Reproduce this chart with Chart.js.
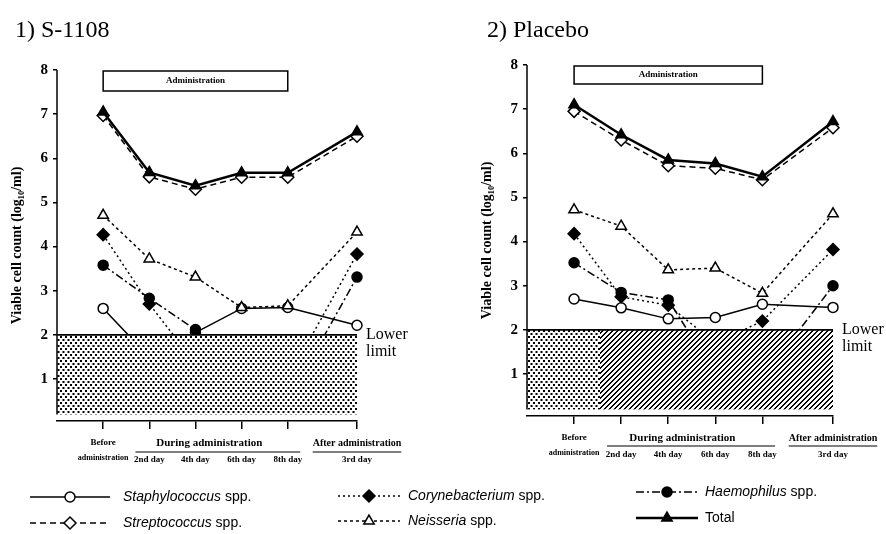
<!DOCTYPE html>
<html>
<head>
<meta charset="utf-8">
<script src="https://cdn.jsdelivr.net/npm/chart.js@4.4.1/dist/chart.umd.min.js"></script>
<style>
  body { margin: 0; background: #fff; width: 886px; height: 534px; position: relative; overflow: hidden; }
  canvas { position: absolute; top: 0; }
  #c1 { left: 0; }
  #c2 { left: 443px; }
  #lg { left: 0; top: 470px; }
</style>
</head>
<body>
<canvas id="c1" width="443" height="470"></canvas>
<canvas id="c2" width="443" height="470"></canvas>
<canvas id="lg" width="886" height="64"></canvas>
<script>
// sampling points: before, 2nd/4th/6th/8th day of dosing, 3rd day after
const days = [1, 2, 3, 4, 5, 6.5];
const dayLabels = ['2nd day', '4th day', '6th day', '8th day'];
const yTicks = [1, 2, 3, 4, 5, 6, 7, 8];
const lowerLimit = 2;

// S-1108 group, log10/ml (values under 2 sit below the detection limit)
const s1108Staph  = [2.6, 1.5, 2.05, 2.6, 2.62, 2.22];
const s1108Strep  = [6.97, 5.58, 5.3, 5.57, 5.57, 6.5];
const s1108Coryne = [4.27, 2.7, 1.35, 1.2, 1.0, 3.83];
const s1108Neiss  = [4.71, 3.72, 3.31, 2.62, 2.66, 4.33];
const s1108Haemo  = [3.58, 2.83, 2.12, 1.0, 0.5, 3.31];
const s1108Total  = [7.05, 5.68, 5.38, 5.67, 5.67, 6.6];

// placebo group
const placStaph  = [2.7, 2.5, 2.25, 2.28, 2.58, 2.51];
const placStrep  = [6.95, 6.3, 5.72, 5.66, 5.4, 6.58];
const placCoryne = [4.18, 2.75, 2.56, 1.7, 2.2, 3.82];
const placNeiss  = [4.72, 4.35, 3.36, 3.4, 2.83, 4.63];
const placHaemo  = [3.52, 2.85, 2.68, 1.0, 0.9, 3.0];
const placTotal  = [7.1, 6.42, 5.85, 5.77, 5.47, 6.72];

const styles = {
  staph:  { genus: 'Staphylococcus',  point: 'circle',   r: 5, filled: false, dash: [],           width: 1.5 },
  strep:  { genus: 'Streptococcus',   point: 'rectRot',  r: 6, filled: false, dash: [6, 4],       width: 1.5 },
  coryne: { genus: 'Corynebacterium', point: 'rectRot',  r: 6, filled: true,  dash: [2, 3],       width: 1.5 },
  neiss:  { genus: 'Neisseria',       point: 'triangle', r: 6, filled: false, dash: [3, 3],       width: 1.5 },
  haemo:  { genus: 'Haemophilus',     point: 'circle',   r: 5, filled: true,  dash: [8, 3, 2, 3], width: 1.5 },
  total:  { genus: null,              point: 'triangle', r: 6, filled: true,  dash: [],           width: 2.5 }
};

function ds(key, values) {
  const s = styles[key];
  return {
    label: key,
    data: values.map((v, i) => ({ x: days[i], y: v })),
    borderColor: '#000',
    borderWidth: s.width,
    borderDash: s.dash,
    pointStyle: s.point,
    pointRadius: s.r,
    pointBorderWidth: 1.5,
    pointBorderColor: '#000',
    pointBackgroundColor: s.filled ? '#000' : '#fff',
    fill: false,
    clip: 10,
    tension: 0
  };
}

function pattern(ctx, kind) {
  const c = document.createElement('canvas');
  const g = c.getContext('2d');
  if (kind === 'dots') {
    c.width = 5; c.height = 6;
    g.fillStyle = '#000';
    g.fillRect(0, 0, 2, 2);
    g.fillRect(2.5, 3, 2, 2);
  } else {
    c.width = 5; c.height = 5;
    g.fillStyle = '#000';
    for (let i = 0; i < 5; i++) {
      g.fillRect(i, 4 - i, 1, 1);
      g.fillRect(i, (5 - i) % 5, 1, 1);
    }
  }
  return ctx.createPattern(c, 'repeat');
}

const deco = {
  id: 'deco',
  afterDatasetsDraw(chart, args, o) {
    const { ctx, scales: { x, y } } = chart;
    const l = x.getPixelForValue(0), r = x.getPixelForValue(6.5);
    const top = y.getPixelForValue(lowerLimit), bot = y.getPixelForValue(0.2);
    ctx.save();
    // band under the detection limit
    ctx.fillStyle = '#fff';
    ctx.fillRect(l, top, r - l, bot - top);
    const split = o.hatchFrom != null ? x.getPixelForValue(o.hatchFrom) : r;
    ctx.fillStyle = pattern(ctx, 'dots');
    ctx.fillRect(l, top, split - l, bot - top);
    if (split < r) {
      ctx.fillStyle = pattern(ctx, 'hatch');
      ctx.fillRect(split, top, r - split, bot - top);
    }
    ctx.strokeStyle = '#000';
    ctx.lineWidth = 1.8;
    ctx.beginPath();
    ctx.moveTo(l, top); ctx.lineTo(r, top);
    ctx.stroke();
    ctx.lineWidth = 1.5;
    ctx.beginPath();
    ctx.moveTo(l, y.getPixelForValue(8)); ctx.lineTo(l, bot);
    ctx.stroke();

    ctx.fillStyle = '#000';
    ctx.font = '16px "Liberation Serif"';
    ctx.textAlign = 'left';
    ctx.textBaseline = 'middle';
    ctx.fillText('Lower', r + 9, top);
    ctx.fillText('limit', r + 9, top + 17);

    // dosing period box
    const bx0 = x.getPixelForValue(1), bx1 = x.getPixelForValue(5);
    const by0 = y.getPixelForValue(8) + 1;
    ctx.fillStyle = '#fff';
    ctx.fillRect(bx0, by0, bx1 - bx0, o.boxH);
    ctx.lineWidth = 1.5;
    ctx.strokeRect(bx0, by0, bx1 - bx0, o.boxH);
    ctx.fillStyle = '#000';
    ctx.font = 'bold 9px "Liberation Serif"';
    ctx.textAlign = 'center';
    ctx.fillText('Administration', (bx0 + bx1) / 2, by0 + o.boxH / 2);

    // panel title
    ctx.font = '24px "Liberation Serif"';
    ctx.textAlign = 'left';
    ctx.textBaseline = 'alphabetic';
    ctx.fillText(o.title, o.titleX, 37);

    // category labels under the x axis
    const ax = x.bottom - x.height;
    const row1 = ax + o.row1, row2 = ax + o.row2, uy = ax + o.under;
    ctx.textBaseline = 'middle';
    ctx.textAlign = 'center';
    ctx.font = 'bold 9px "Liberation Serif"';
    ctx.fillText('Before', x.getPixelForValue(1), row1);
    ctx.font = 'bold 8px "Liberation Serif"';
    ctx.fillText('administration', x.getPixelForValue(1), row2);
    ctx.font = 'bold 11px "Liberation Serif"';
    ctx.fillText('During administration', x.getPixelForValue(3.3), row1);
    ctx.font = 'bold 10px "Liberation Serif"';
    const after = 'After administration';
    const cx = x.getPixelForValue(6.5);
    ctx.fillText(after, cx, row1);
    const aw = ctx.measureText(after).width;
    ctx.font = 'bold 9px "Liberation Serif"';
    dayLabels.forEach((t, i) => ctx.fillText(t, x.getPixelForValue(days[i + 1]), row2 + 2));
    ctx.fillText('3rd day', cx, row2 + 2);
    ctx.lineWidth = 1.2;
    ctx.beginPath();
    ctx.moveTo(x.getPixelForValue(1.7), uy); ctx.lineTo(x.getPixelForValue(5.27), uy);
    ctx.moveTo(cx - aw / 2, uy); ctx.lineTo(cx + aw / 2, uy);
    ctx.stroke();
    ctx.restore();
  }
};

function panel(id, series, o) {
  return new Chart(document.getElementById(id), {
    type: 'line',
    data: {
      datasets: [
        ds('total', series.total),
        ds('haemo', series.haemo),
        ds('coryne', series.coryne),
        ds('strep', series.strep),
        ds('neiss', series.neiss),
        ds('staph', series.staph)
      ]
    },
    options: {
      responsive: false,
      animation: false,
      layout: { padding: { left: o.padLeft, top: o.top, right: 443 - o.right, bottom: 0 } },
      plugins: {
        legend: { display: false },
        tooltip: { enabled: false },
        deco: o.deco
      },
      scales: {
        x: {
          type: 'linear', min: 0, max: 6.5,
          afterBuildTicks: s => { s.ticks = days.map(v => ({ value: v })); },
          afterFit: s => { s.height = 470 - o.bottom; },
          grid: { drawOnChartArea: false, color: '#000', lineWidth: 1.5, tickLength: 8 },
          border: { color: '#000', width: 1.5 },
          ticks: { display: false }
        },
        y: {
          min: 0.05, max: 8,
          afterBuildTicks: s => { s.ticks = yTicks.map(v => ({ value: v })); },
          afterFit: s => { s.width = o.left - o.padLeft; },
          grid: { drawOnChartArea: false, color: '#000', lineWidth: 1.5, tickLength: 4 },
          border: { display: false },
          ticks: {
            color: '#000', padding: 5,
            font: { family: 'Liberation Serif', size: 15, weight: 'bold' }
          },
          title: {
            display: true,
            text: 'Viable cell count (log\u2081\u2080/ml)',
            color: '#000',
            padding: { top: 9, bottom: 0 },
            font: { family: 'Liberation Serif', size: 14, weight: 'bold' }
          }
        }
      }
    },
    plugins: [deco]
  });
}

panel('c1', {
  staph: s1108Staph, strep: s1108Strep, coryne: s1108Coryne,
  neiss: s1108Neiss, haemo: s1108Haemo, total: s1108Total
}, {
  padLeft: 0, left: 57, right: 357, top: 70, bottom: 421,
  deco: { title: '1) S-1108', titleX: 15, boxH: 20, row1: 22, row2: 37, under: 31, hatchFrom: null }
});

panel('c2', {
  staph: placStaph, strep: placStrep, coryne: placCoryne,
  neiss: placNeiss, haemo: placHaemo, total: placTotal
}, {
  padLeft: 27, left: 84, right: 390, top: 65, bottom: 416,
  deco: { title: '2) Placebo', titleX: 44, boxH: 18, row1: 22, row2: 37, under: 30, hatchFrom: 1.55 }
});

// key below both panels
(function drawKey() {
  const g = document.getElementById('lg').getContext('2d');
  const cols = [
    { x0: 30, x1: 110, tx: 123, rows: [['staph', 27], ['strep', 53]] },
    { x0: 338, x1: 400, tx: 408, rows: [['coryne', 26], ['neiss', 51]] },
    { x0: 636, x1: 698, tx: 705, rows: [['haemo', 22], ['total', 48]] }
  ];
  g.strokeStyle = '#000';
  g.fillStyle = '#000';
  g.textBaseline = 'middle';
  cols.forEach(c => c.rows.forEach(([key, yy]) => {
    const s = styles[key];
    g.lineWidth = s.width;
    g.setLineDash(s.dash);
    g.beginPath();
    g.moveTo(c.x0, yy); g.lineTo(c.x1, yy);
    g.stroke();
    g.setLineDash([]);
    g.lineWidth = 1.5;
    const mx = (c.x0 + c.x1) / 2, r = s.r;
    g.beginPath();
    if (s.point === 'circle') {
      g.arc(mx, yy, r, 0, Math.PI * 2);
    } else if (s.point === 'rectRot') {
      g.moveTo(mx, yy - r); g.lineTo(mx + r, yy); g.lineTo(mx, yy + r); g.lineTo(mx - r, yy); g.closePath();
    } else {
      const h = r * 1.5, w = r * Math.sqrt(3);
      g.moveTo(mx, yy - h * 2 / 3); g.lineTo(mx + w / 2, yy + h / 3); g.lineTo(mx - w / 2, yy + h / 3); g.closePath();
    }
    g.fillStyle = s.filled ? '#000' : '#fff';
    g.fill();
    g.stroke();
    g.fillStyle = '#000';
    if (s.genus) {
      g.font = 'italic 14px "Liberation Sans"';
      g.fillText(s.genus, c.tx, yy);
      const w = g.measureText(s.genus).width;
      g.font = '14px "Liberation Sans"';
      g.fillText(' spp.', c.tx + w, yy);
    } else {
      g.font = '14px "Liberation Sans"';
      g.fillText('Total', c.tx, yy);
    }
  }));
})();
</script>
</body>
</html>
